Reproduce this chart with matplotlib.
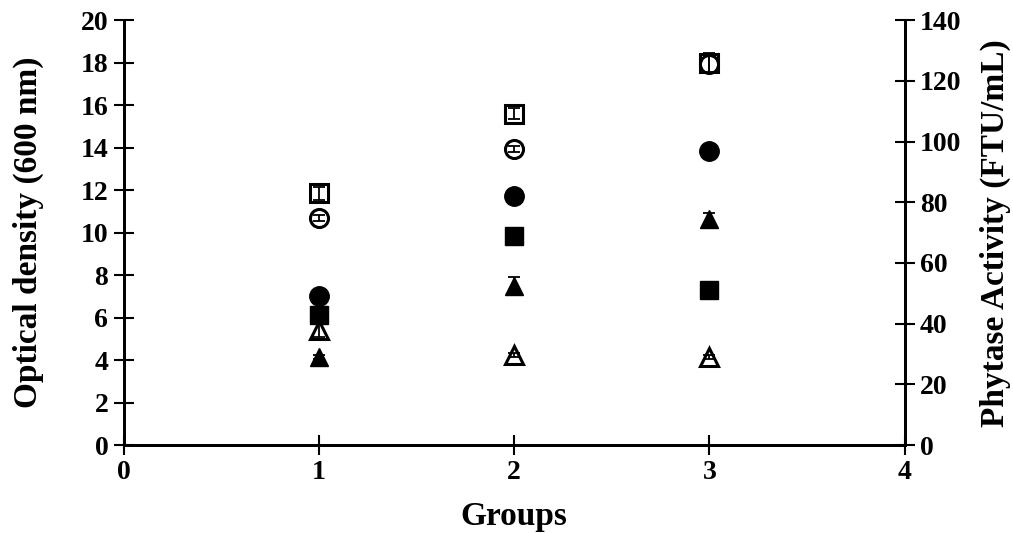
import matplotlib
matplotlib.use("Agg")
import matplotlib.pyplot as plt

plt.rcParams["font.family"] = ["Liberation Serif", "DejaVu Serif"]
plt.rcParams["font.weight"] = "bold"

groups = [1, 2, 3]

# optical density (left axis), open markers
od_square = [11.85, 15.6, 18.0]
od_square_err = [0.3, 0.25, 0.45]
od_circle = [10.7, 13.95, 17.95]
od_circle_err = [0.15, 0.15, 0.45]
od_triangle = [5.4, 4.25, 4.15]
od_triangle_err = [0.3, 0.1, 0.1]

# phytase activity (right axis), filled markers
ph_circle = [49.0, 82.0, 97.0]
ph_circle_err = [0.8, 0.8, 0.8]
ph_square = [43.0, 69.0, 51.0]
ph_square_err = [0.8, 0.8, 0.8]
ph_triangle = [29.0, 52.5, 74.5]
ph_triangle_err = [0.8, 3.0, 2.0]

fig, ax1 = plt.subplots(figsize=(10.13, 5.33), dpi=100)
fig.subplots_adjust(left=0.122, right=0.893, top=0.962, bottom=0.165)
ax2 = ax1.twinx()

ms = 13
ebar = dict(fmt="none", ecolor="black", elinewidth=1.3, capsize=4, capthick=1.3, zorder=4)


def draw(ax, y, err, marker, filled, size=ms):
    if filled:
        ax.plot(groups, y, ls="none", marker=marker, ms=size, color="black", zorder=3)
    else:
        ax.plot(groups, y, ls="none", marker=marker, ms=size, mfc="white", mec="black",
                mew=2.2, zorder=3)
    ax.errorbar(groups, y, yerr=err, **ebar)


draw(ax1, od_square, od_square_err, "s", False)
draw(ax1, od_circle, od_circle_err, "o", False)
draw(ax1, od_triangle, od_triangle_err, "^", False)

draw(ax2, ph_circle, ph_circle_err, "o", True, ms + 1)
draw(ax2, ph_square, ph_square_err, "s", True)
draw(ax2, ph_triangle, ph_triangle_err, "^", True)

ax1.set_xlim(0, 4)
ax1.set_ylim(0, 20)
ax2.set_ylim(0, 140)
ax1.set_xticks(range(0, 5))
ax1.set_yticks(range(0, 21, 2))
ax2.set_yticks(range(0, 141, 20))

for ax in (ax1, ax2):
    for s in ax.spines.values():
        s.set_linewidth(2)
    ax.spines["top"].set_visible(False)
    ax.tick_params(direction="inout", length=14, width=1.5, labelsize=20, pad=4)

ax1.set_xlabel("Groups", fontsize=24, fontweight="bold", labelpad=11)
ax1.set_ylabel("Optical density (600 nm)", fontsize=24, fontweight="bold", labelpad=26)
ax2.set_ylabel("Phytase Activity (FTU/mL)", fontsize=24, fontweight="bold", labelpad=13)

fig.savefig("out.png", dpi=100)
